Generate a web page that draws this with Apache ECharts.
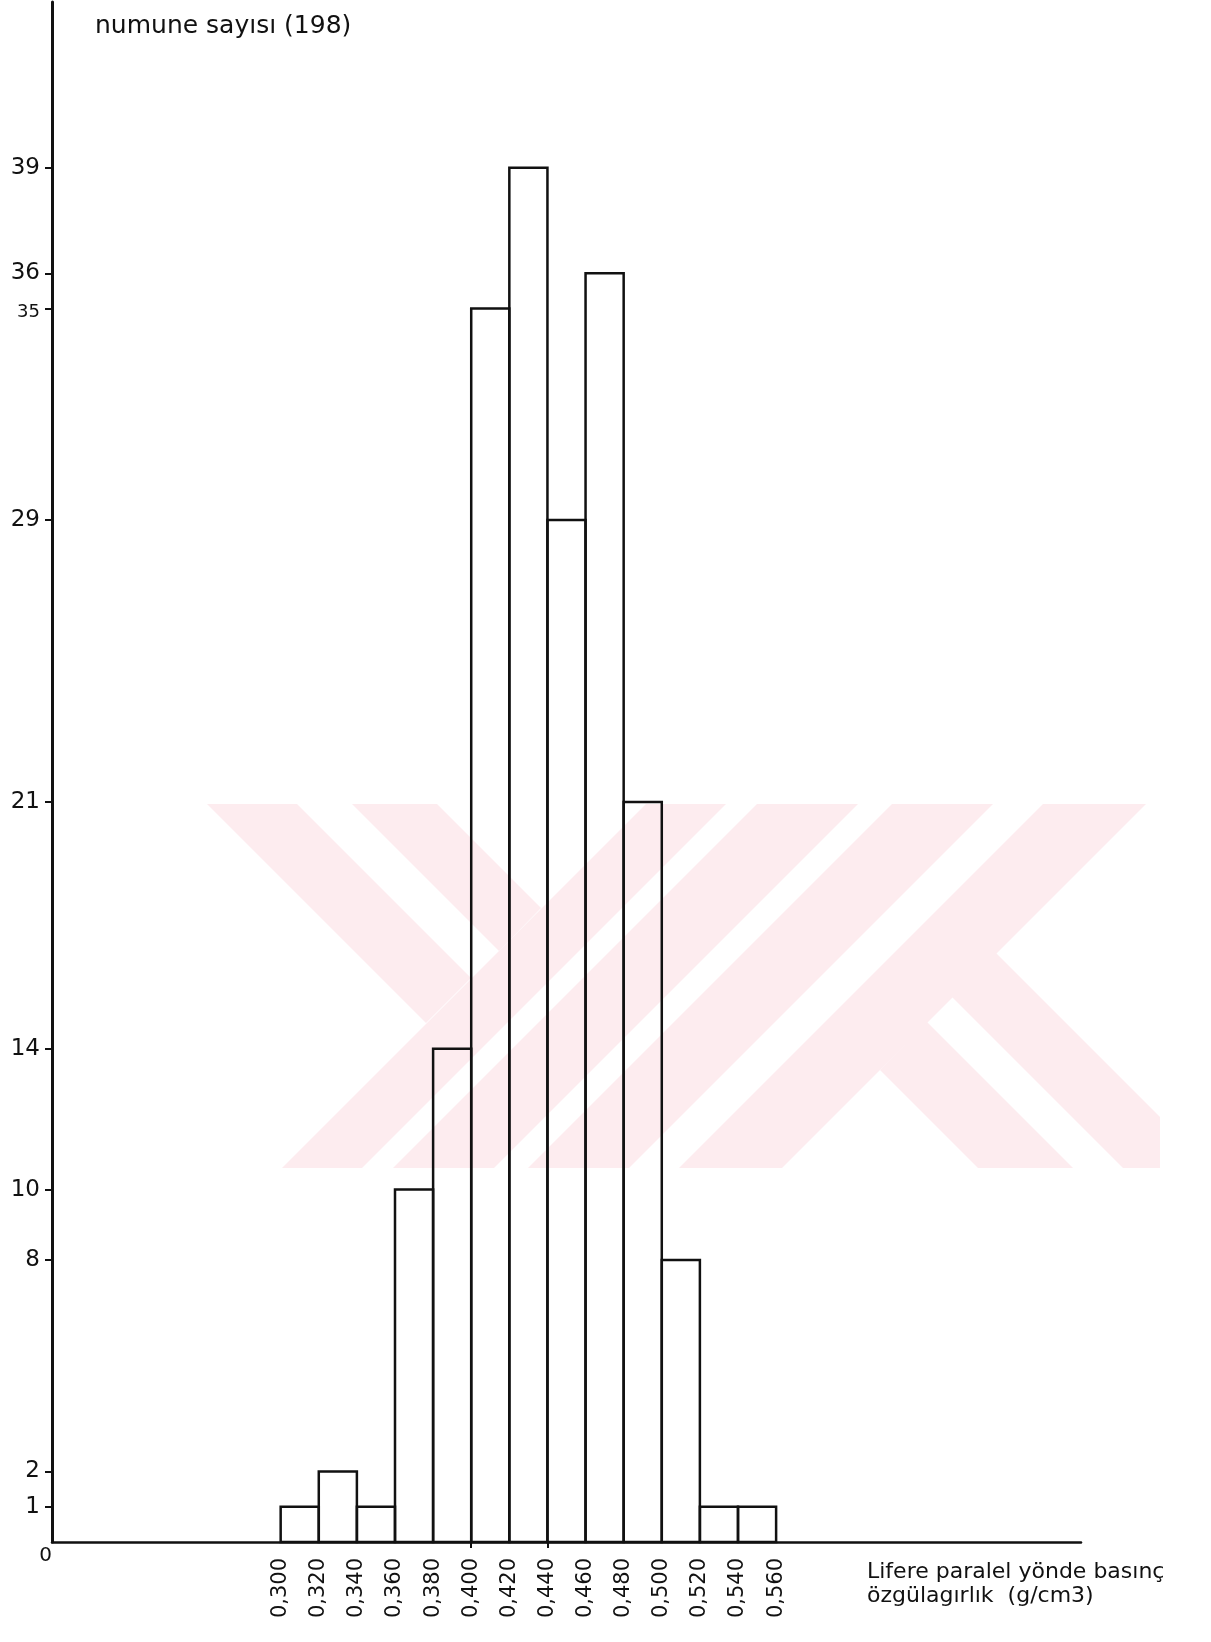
<!DOCTYPE html>
<html>
<head>
<meta charset="utf-8">
<title>numune sayısı</title>
<script src="https://cdn.jsdelivr.net/npm/echarts@6/dist/echarts.min.js"></script>
<style>
  html, body { margin: 0; padding: 0; background: #fff; }
  #chart { width: 1211px; height: 1642px; }
</style>
</head>
<body>
<div id="chart"></div>
<script>
// bin edges (g/cm3) and sample counts per bin
const binEdges = [0.30, 0.32, 0.34, 0.36, 0.38, 0.40, 0.42, 0.44, 0.46, 0.48, 0.50, 0.52, 0.54, 0.56]
const counts = [1, 2, 1, 10, 14, 35, 39, 29, 36, 21, 8, 1, 1]
const yTicks = [1, 2, 8, 10, 14, 21, 29, 35, 36, 39]
const yLabels = [0, 1, 2, 8, 10, 14, 21, 29, 35, 36, 39]
const xTicks = [0.40, 0.44]

const ink = '#111'
const wm = '#fdecef' // faint watermark of the scan

// watermark bands (decoration only)
const wmPolys = [
  [[646, 804], [726, 804], [362, 1168], [282, 1168]],
  [[757, 804], [858, 804], [494, 1168], [393, 1168]],
  [[892, 804], [993, 804], [629, 1168], [528, 1168]],
  [[1043, 804], [1146, 804], [782, 1168], [679, 1168]],
  [[207, 804], [297, 804], [471, 978], [426, 1023]],
  [[352, 804], [437, 804], [541, 908], [499, 951]],
  [[952, 997], [996, 953], [1160, 1117], [1160, 1168], [1123, 1168]],
  [[880, 1070], [927, 1022], [1073, 1168], [978, 1168]]
]

const chart = echarts.init(document.getElementById('chart'))

chart.setOption({
  backgroundColor: '#fff',
  animation: false,
  textStyle: { fontFamily: 'DejaVu Sans', color: ink },
  title: [{
    text: 'numune sayısı (198)',
    left: 90,
    top: 9,
    textStyle: { fontSize: 25, fontWeight: 'normal', color: ink, fontFamily: 'DejaVu Sans' }
  }, {
    text: 'Lifere paralel yönde basınç\nözgülagırlık  (g/cm3)',
    left: 862,
    top: 1555,
    textStyle: { fontSize: 22, fontWeight: 'normal', lineHeight: 24, color: ink, fontFamily: 'DejaVu Sans' }
  }],
  graphic: wmPolys.map(pts => ({
    type: 'polygon',
    silent: true,
    z: -10,
    shape: { points: pts },
    style: { fill: wm }
  })),
  grid: {
    left: 52,
    right: 130,
    top: 2,
    bottom: 100
  },
  xAxis: {
    type: 'value',
    min: 0.18,
    max: 0.72,
    axisLine: { show: true, onZero: false, lineStyle: { color: ink, width: 2.5 } },
    axisTick: {
      show: true,
      customValues: xTicks,
      length: 6,
      lineStyle: { color: ink, width: 2 }
    },
    axisLabel: {
      show: true,
      customValues: binEdges,
      rotate: 90,
      margin: 16,
      fontSize: 21,
      color: ink,
      formatter: v => v.toFixed(3).replace('.', ',')
    },
    splitLine: { show: false }
  },
  yAxis: {
    type: 'value',
    min: 0,
    max: 43.7,
    axisLine: { show: true, onZero: false, lineStyle: { color: ink, width: 3 } },
    axisTick: {
      show: true,
      customValues: yTicks,
      length: 7,
      lineStyle: { color: ink, width: 2 }
    },
    axisLabel: {
      show: true,
      customValues: yLabels,
      margin: 12,
      fontSize: 23,
      color: ink,
      formatter: v => {
        if (v === 0) return '{z|0}'
        if (v === 35) return '{s|35}'
        return String(v)
      },
      rich: {
        z: { fontSize: 20, padding: [28, -12, 0, 0] },
        s: { fontSize: 18, padding: [8, 0, 0, 0] }
      }
    },
    splitLine: { show: false }
  },
  series: [{
    name: 'numune',
    type: 'custom',
    z: 5,
    renderItem: (params, api) => {
      const top = api.coord([api.value(0), api.value(2)])
      const bot = api.coord([api.value(1), 0])
      return {
        type: 'rect',
        shape: { x: top[0], y: top[1], width: bot[0] - top[0], height: bot[1] - top[1] },
        style: { fill: 'none', stroke: ink, lineWidth: 2.5 }
      }
    },
    encode: { x: [0, 1], y: 2 },
    data: counts.map((c, i) => [binEdges[i], binEdges[i + 1], c])
  }]
})
</script>
</body>
</html>
